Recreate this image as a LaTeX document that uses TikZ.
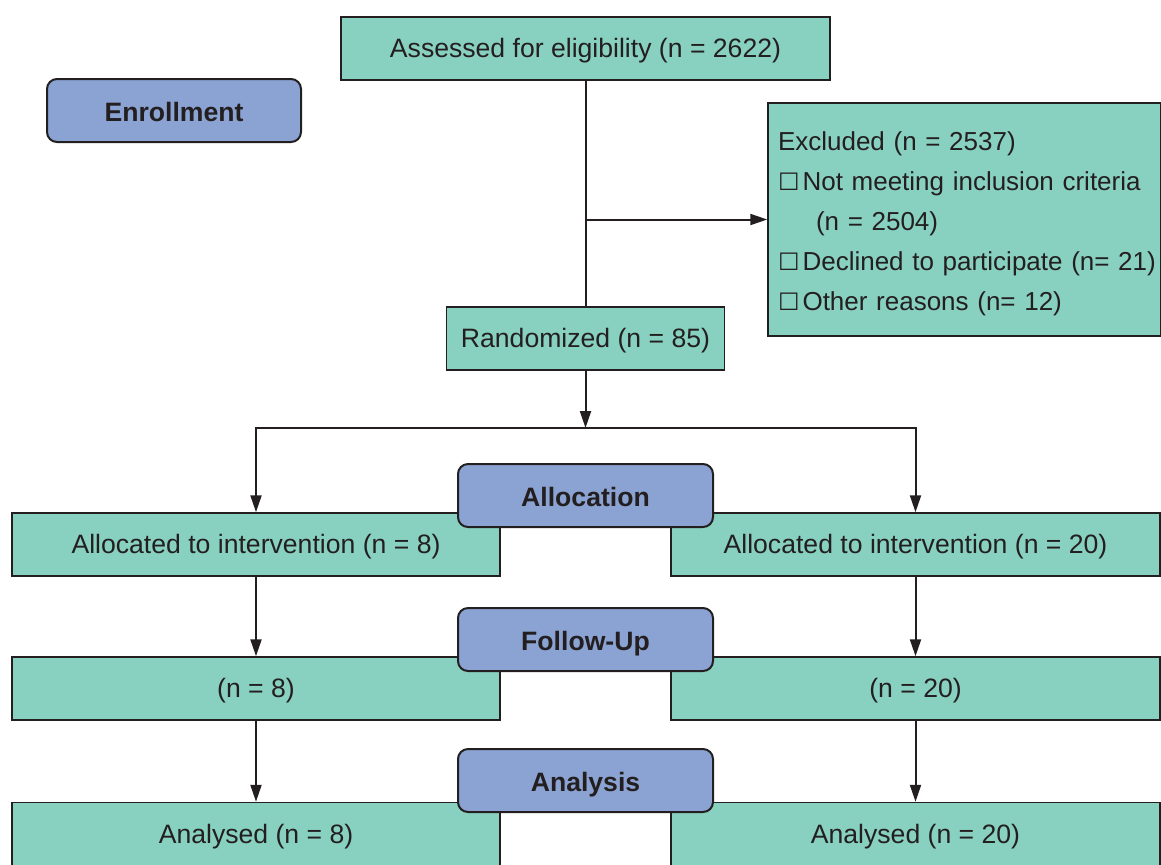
\documentclass[tikz,border=0pt]{standalone}
\usepackage{fontspec}
\setmainfont{Liberation Sans}
\newfontfamily\boxglyph{DejaVu Sans}
\usetikzlibrary{arrows.meta}

\newlength{\du}
\setlength{\du}{0.5pt}
\newcommand{\tickbox}{{\boxglyph\fontsize{12}{20}\selectfont ☐}\hspace{3\du}}

\definecolor{boxgreen}{RGB}{136,209,192}
\definecolor{boxblue}{RGB}{139,163,211}
\definecolor{inkgray}{RGB}{35,31,32}

\tikzset{
  flowbox/.style={draw=inkgray, fill=boxgreen, line width=1.5\du, inner sep=0pt,
    minimum height=63\du, text height=12pt, text depth=3pt, text=inkgray,
    font=\fontsize{13.3}{16}\selectfont},
  stagebox/.style={draw=inkgray, fill=boxblue, rounded corners=10\du, line width=2\du,
    inner sep=0pt, minimum width=255\du, minimum height=63\du, text height=14pt,
    text depth=3pt, text=inkgray, font=\fontsize{13.3}{16}\selectfont\bfseries},
  flowline/.style={draw=inkgray, line width=2\du},
  flowarrow/.style={flowline, -{Triangle[length=8.5pt,width=5.5pt]}}
}

\begin{document}
\begin{tikzpicture}
\pgftransformxscale{1.000000}
\pgftransformyscale{-1.000000}
\useasboundingbox (0\du,0\du) rectangle (1161\du,864\du);

% enrollment
\node[flowbox, minimum width=489\du] (assess) at (585.5\du,48.5\du) {Assessed for eligibility (n = 2622)};
\node[flowbox, minimum width=393\du, minimum height=233\du, text width=373\du,
  text height=, text depth=, inner xsep=10\du, align=left,
  font=\fontsize{13}{20}\selectfont] (excl) at (964.5\du,219.5\du)
  {\mbox{\rule{0pt}{14pt}Excluded (n = 2537)}\\
   \mbox{\tickbox Not meeting inclusion criteria}\\
   \mbox{\hspace*{38\du}(n = 2504)}\\
   \mbox{\tickbox Declined to participate (n= 21)}\\
   \mbox{\tickbox Other reasons (n= 12)}};
\node[flowbox, minimum width=278\du] (rand) at (585.5\du,338.5\du) {Randomized (n = 85)};
\node[stagebox, minimum width=254\du] (enrol) at (174\du,110.5\du) {Enrollment};

\coordinate (exclbranch) at (585.5\du,219.5\du);
\coordinate (split) at (585.5\du,428\du);
\draw[flowline] (assess.south) -- (rand.north);
\draw[flowarrow] (exclbranch) -- (excl.west);
\draw[flowarrow] (rand.south) -- (split);

% allocation
\node[flowbox, minimum width=488\du] (allocL) at (256\du,544.5\du) {Allocated to intervention (n = 8)};
\node[flowbox, minimum width=489\du] (allocR) at (915.5\du,544.5\du) {Allocated to intervention (n = 20)};
\draw[flowarrow] (split) -| (allocL.north);
\draw[flowarrow] (split) -| (allocR.north);
\node[stagebox] (alloc) at (585.5\du,495.5\du) {Allocation};

% follow-up
\node[flowbox, minimum width=488\du] (followL) at (256\du,688.5\du) {(n = 8)};
\node[flowbox, minimum width=489\du] (followR) at (915.5\du,688.5\du) {(n = 20)};
\draw[flowarrow] (allocL.south) -- (followL.north);
\draw[flowarrow] (allocR.south) -- (followR.north);
\node[stagebox] (follow) at (585.5\du,639.5\du) {Follow-Up};

% analysis
\node[flowbox, minimum width=488\du] (analysL) at (256\du,834\du) {Analysed (n = 8)};
\node[flowbox, minimum width=489\du] (analysR) at (915.5\du,834\du) {Analysed (n = 20)};
\draw[flowarrow] (followL.south) -- (analysL.north);
\draw[flowarrow] (followR.south) -- (analysR.north);
\node[stagebox] (analys) at (585.5\du,780.5\du) {Analysis};
\end{tikzpicture}
\end{document}
